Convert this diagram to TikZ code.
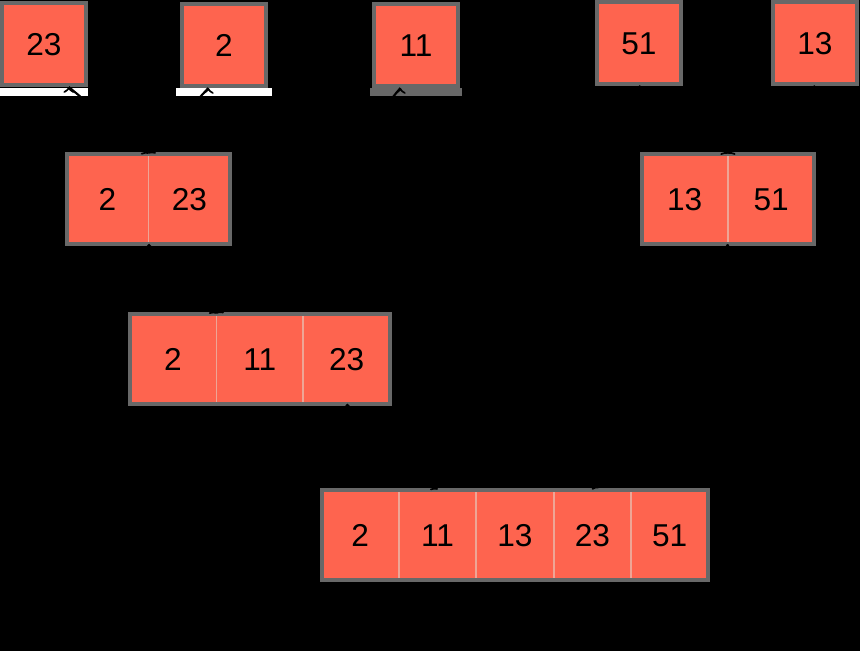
\documentclass[tikz,border=0pt]{standalone}
\usepackage{fontspec}
\setmainfont{Liberation Sans}
\usetikzlibrary{positioning}
\definecolor{cellred}{RGB}{254,100,79}
\definecolor{framegray}{RGB}{104,104,104}
\definecolor{seppink}{RGB}{238,165,150}
\begin{document}
\begin{tikzpicture}[x=0.02cm, y=-0.02cm,
  cell/.style={shape=rectangle, fill=cellred, draw=seppink, line width=0.5pt, inner sep=0pt,
    minimum width=#1, minimum height=1.8cm, text height=12.9pt, text depth=0pt,
    font=\fontsize{18}{21}\selectfont},
  cell/.default=1.6cm,
  single/.style={cell=1.68cm, minimum height=1.64cm, draw=framegray, line width=0.08cm},
  frame/.style={draw=framegray, line width=0.08cm},
  arrow/.style={->, very thick, draw=black}]
\fill[black] (0,0) rectangle (860,651);
% single numbers
\node[single] (s23) at (44,44) {23};
\node[single] (s2) at (224,45) {2};
\node[single] (s11) at (416,45) {11};
\node[single] (s51) at (639,43) {51};
\node[single] (s13) at (815,43) {13};
\fill[white] (0,88) rectangle (88,96);
\fill[white] (176,88) rectangle (272,96);
\fill[framegray] (370,88) rectangle (462,96);
% first merges
\node[cell=1.62cm] (m1a) at (107.5,199) {2};
\node[cell=1.62cm, right=0pt of m1a] (m1b) {23};
\draw[frame] (m1a.north west) rectangle (m1b.south east);
\node[cell=1.71cm] (m2a) at (684.75,199) {13};
\node[cell=1.71cm, right=0pt of m2a] (m2b) {51};
\draw[frame] (m2a.north west) rectangle (m2b.south east);
% second merge
\node[cell=1.72cm] (m3a) at (173,359) {2};
\node[cell=1.72cm, right=0pt of m3a] (m3b) {11};
\node[cell=1.72cm, right=0pt of m3b] (m3c) {23};
\draw[frame] (m3a.north west) rectangle (m3c.south east);
% result
\node[cell=1.53cm] (f1) at (360.25,535) {2};
\node[cell=1.53cm, right=0pt of f1] (f2) {11};
\node[cell=1.53cm, right=0pt of f2] (f3) {13};
\node[cell=1.53cm, right=0pt of f3] (f4) {23};
\node[cell=1.53cm, right=0pt of f4] (f5) {51};
\draw[frame] (f1.north west) rectangle (f5.south east);
% arrows
\path [arrow] (s23.300) edge (m1a.north east);
\path [arrow] (s2.250) edge (m1b.north west);
\path [arrow] (s11.250) edge (m3a.north east);
\path [arrow] (m1a.south east) edge (m3a.north east);
\path [arrow] (s51.south) edge (m2a.north east);
\path [arrow] (s13.south) edge (m2b.north west);
\path [arrow] (m3c.south) edge (f2.north);
\path [arrow] (m2a.south east) edge (f4.north);
\end{tikzpicture}
\end{document}
